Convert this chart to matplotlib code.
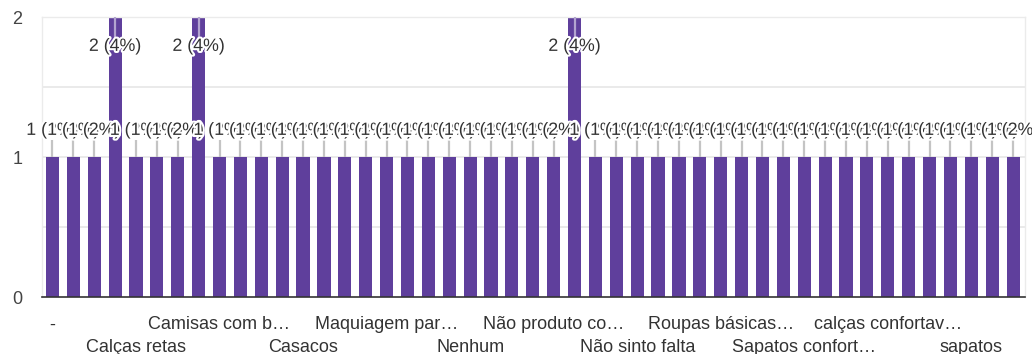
import matplotlib
matplotlib.use("Agg")
import matplotlib.pyplot as plt
import matplotlib.patheffects as pe
import numpy as np

plt.rcParams['font.family'] = ['Liberation Sans', 'DejaVu Sans']

# Responses per answer (sorted by answer text)
categories = [
    "-", "Acessórios", "Blusas", "Calças", "Calças retas", "Calças sociais",
    "Camisa social", "Camisas", "Camisas com botões", "Camisetas",
    "Camisetas básicas", "Cardigans", "Casacos", "Cintos", "Jaquetas",
    "Lingerie", "Maquiagem para pele negra", "Meias", "Moda plus size",
    "Moletons", "Nenhum", "Nenhum em especial", "Não", "Não lembro",
    "Não produto com essa característica", "Não sei", "Não sei dizer",
    "Não sinto", "Não sinto falta", "Peças sustentáveis", "Pijamas",
    "Roupa íntima", "Roupas básicas de qualidade", "Roupas de academia",
    "Roupas sociais", "Sapatos", "Sapatos confortáveis", "Shorts", "Tênis",
    "Vestidos", "calças confortaveis", "camisetas", "meias",
    "roupas íntimas", "sapatos", "tênis", "vestidos",
]
counts = [1, 1, 1, 2, 1, 1, 1, 2, 1, 1, 1, 1, 1, 1, 1, 1, 1, 1, 1, 1,
          1, 1, 1, 1, 1, 2, 1, 1, 1, 1, 1, 1, 1, 1, 1, 1, 1, 1, 1, 1,
          1, 1, 1, 1, 1, 1, 1]
value_labels = ["2 (4%)" if c == 2 else "1 (2%)" for c in counts]

# Axis labels shown under every fourth bar
tick_every = 4
tick_labels = ["-", "Calças retas", "Camisas com b…", "Casacos",
               "Maquiagem par…", "Nenhum", "Não produto co…",
               "Não sinto falta", "Roupas básicas…", "Sapatos confort…",
               "calças confortav…", "sapatos"]
y_ticks = [0, 1, 2]

bar_color = "#5f3f9c"
text_color = "#333333"

fig = plt.figure(figsize=(10.32, 3.54), dpi=100)
ax = fig.add_axes([42 / 1032, 1 - 297 / 354, (1025 - 42) / 1032, (297 - 17) / 354])

x = np.arange(len(categories))
ax.bar(x, counts, width=0.63, color=bar_color, zorder=2)

ax.set_xlim(-0.5, len(categories) - 0.43)
ax.set_ylim(0, 2)

# gridlines
for gy in [0.5, 1.0, 1.5, 2.0]:
    ax.axhline(gy, color="#e6e6e6", lw=1.2, zorder=0)

halo = [pe.withStroke(linewidth=3, foreground="white")]

for xi, c, lab in zip(x, counts, value_labels):
    if c == 1:
        ax.plot([xi, xi], [1.0, 1.12], color="#c4c4c4", lw=1.6, zorder=3,
                solid_capstyle="butt")
        ax.text(xi, 1.19, lab, ha="center", va="center", fontsize=12.8,
                color=text_color, path_effects=halo, zorder=5, clip_on=False)
    else:
        ax.plot([xi, xi], [c, c - 0.14], color="#b3a4d0", lw=1.6, zorder=3,
                solid_capstyle="butt")
        ax.text(xi, c - 0.21, lab, ha="center", va="center", fontsize=12.8,
                color=text_color, path_effects=halo, zorder=5, clip_on=False)

# spines
for side in ["left", "right", "top"]:
    ax.spines[side].set_color("#ebebeb")
    ax.spines[side].set_linewidth(1.0)
ax.spines["bottom"].set_color("#333333")
ax.spines["bottom"].set_linewidth(1.2)
ax.spines["bottom"].set_zorder(4)

ax.set_yticks(y_ticks)
ax.set_yticklabels([str(v) for v in y_ticks], fontsize=13, color="#444444")
ax.tick_params(axis="y", length=0, pad=14)

tick_pos = x[::tick_every]
shown = [lab if i % 2 == 0 else "\n" + lab for i, lab in enumerate(tick_labels)]
ax.set_xticks(tick_pos)
ax.set_xticklabels(shown, fontsize=13, color="#333333", linespacing=1.4)
ax.tick_params(axis="x", length=0, pad=14)

fig.savefig("out.png", dpi=100, facecolor="white")
